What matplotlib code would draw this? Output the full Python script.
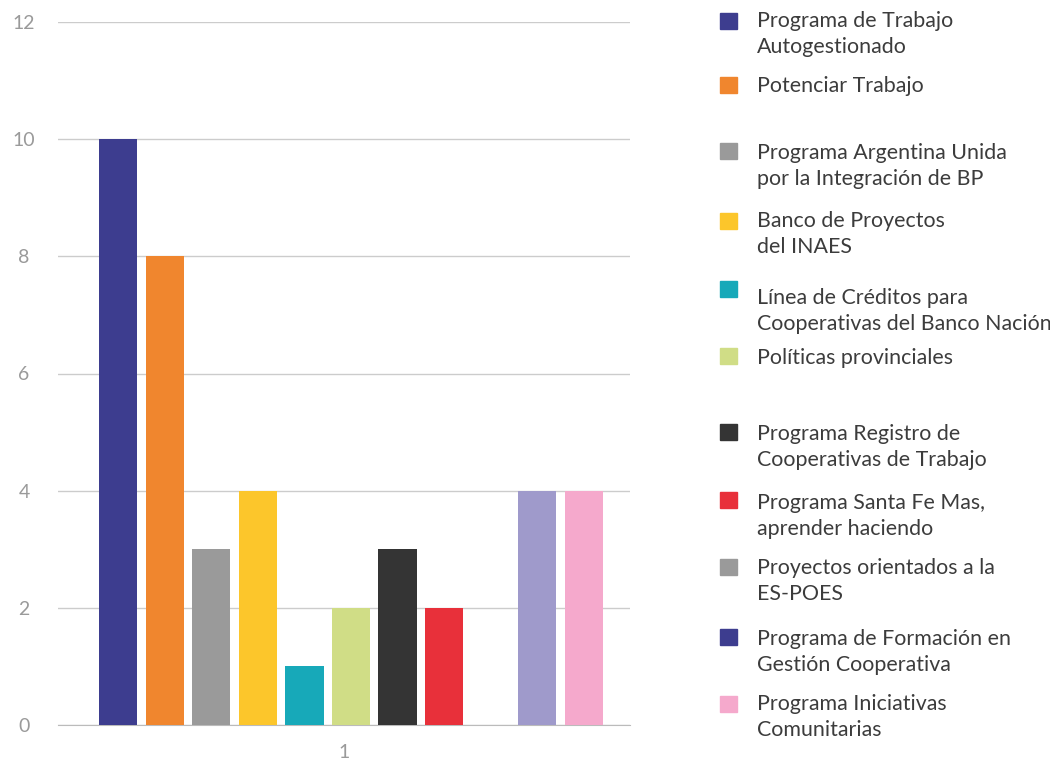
import numpy as np
import matplotlib.pyplot as plt
from matplotlib.patches import Rectangle

plt.rcParams['font.family'] = ['Lato', 'DejaVu Sans']

programas = ["Programa de Trabajo\nAutogestionado",
             "Potenciar Trabajo",
             "Programa Argentina Unida\npor la Integración de BP",
             "Banco de Proyectos\ndel INAES",
             "Línea de Créditos para\nCooperativas del Banco Nación",
             "Políticas provinciales",
             "Programa Registro de\nCooperativas de Trabajo",
             "Programa Santa Fe Mas,\naprender haciendo",
             "Proyectos orientados a la\nES-POES",
             "Programa de Formación en\nGestión Cooperativa",
             "Programa Iniciativas\nComunitarias"]
valores = [10, 8, 3, 4, 1, 2, 3, 2, 0, 4, 4]
colores_barras = ["#3d3d8f", "#f0862e", "#9a9a9a", "#fcc62b", "#17a9b9", "#d0dd86",
                  "#343434", "#e8303a", "#9a9a9a", "#9f9acb", "#f5a9cc"]
colores_leyenda = ["#3d3d8f", "#f0862e", "#9a9a9a", "#fcc62b", "#17a9b9", "#d0dd86",
                   "#343434", "#e8303a", "#9a9a9a", "#3d3d8f", "#f5a9cc"]

fig = plt.figure(figsize=(10.5, 7.6), dpi=100)
ax = fig.add_axes([58 / 1050, 1 - 725 / 760, 572 / 1050, 703 / 760])

x = np.arange(len(valores))
ax.bar(x, valores, width=0.82, color=colores_barras, zorder=3)

ax.set_xlim(-1.29, 10.99)
ax.set_ylim(0, 12)
ax.set_yticks([0, 2, 4, 6, 8, 10, 12])
ax.set_xticks([4.85])
ax.set_xticklabels(["1"])
ax.yaxis.grid(True, color="#cccccc", linewidth=1, zorder=0)
for s in ["top", "right", "left"]:
    ax.spines[s].set_visible(False)
ax.spines["bottom"].set_color("#bbbbbb")
ax.tick_params(length=0, colors="#9a9a9a", labelsize=14)
ax.tick_params(axis="y", pad=24.5)
ax.tick_params(axis="x", pad=14)
for lbl in ax.get_yticklabels():
    lbl.set_horizontalalignment("center")

# leyenda manual
y_cuadros = [21, 85, 151, 221, 289, 356, 432, 500, 567, 637, 704]
y_textos = [20, 85, 152, 220, 297, 357, 433, 502, 567, 638, 703]
for etiqueta, color, yc, yt in zip(programas, colores_leyenda, y_cuadros, y_textos):
    fig.patches.append(Rectangle((720 / 1050, 1 - (yc + 8) / 760), 17 / 1050, 16 / 760,
                                 transform=fig.transFigure, color=color))
    fig.text(757 / 1050, 1 - (yt - 9) / 760, etiqueta, fontsize=15.4, color="#3c3c3c",
             va="top", ha="left", linespacing=1.4)

fig.savefig("out.png", dpi=100, facecolor="white")
